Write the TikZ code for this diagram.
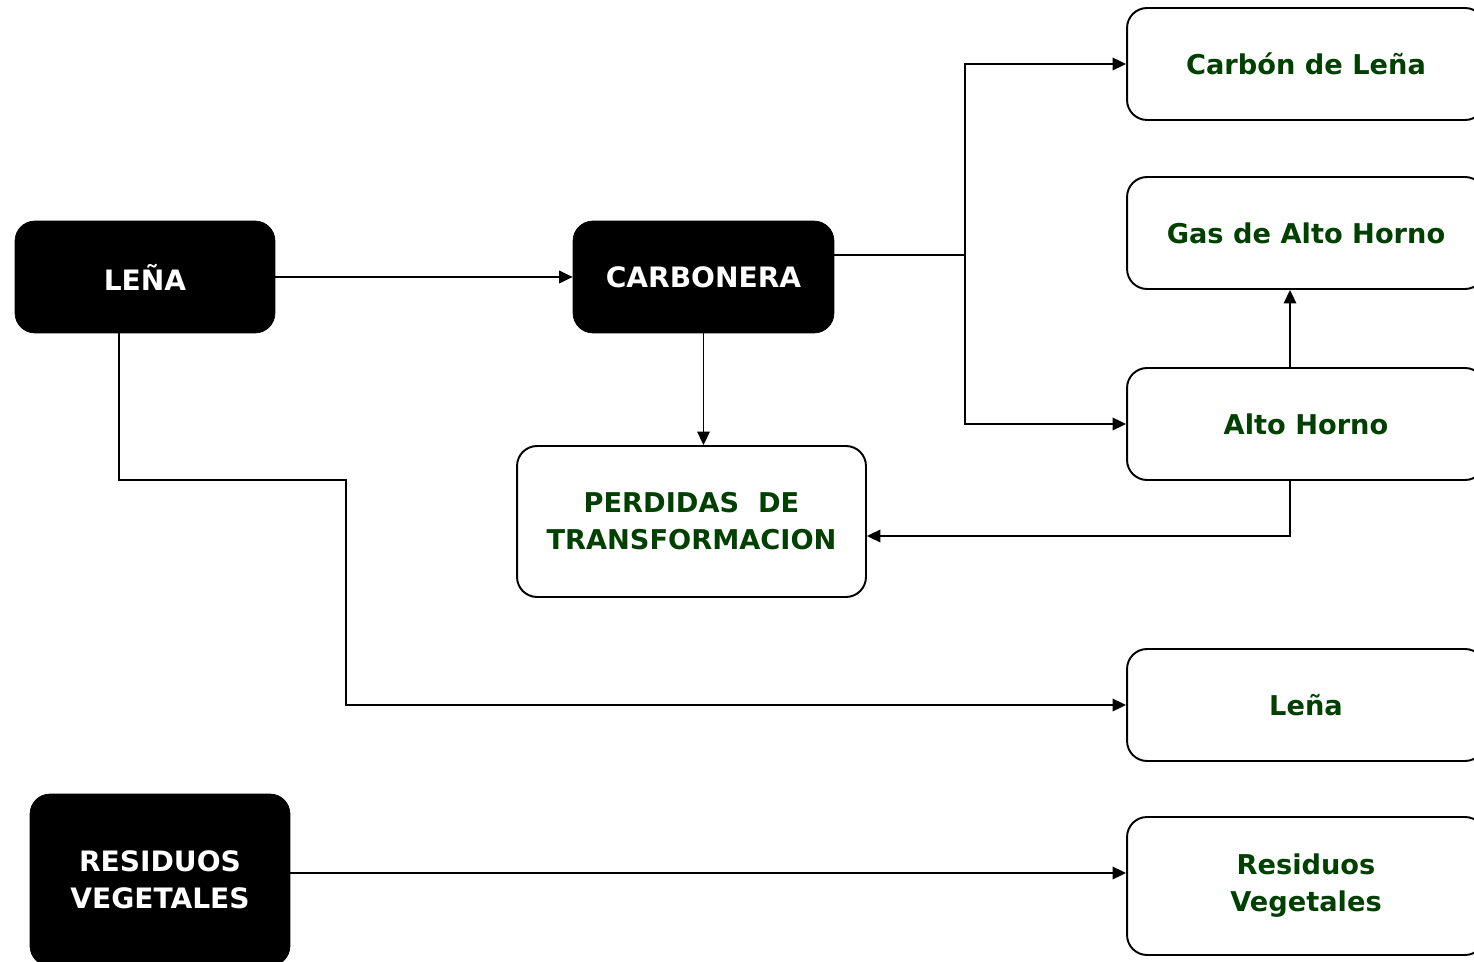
\documentclass[tikz,border=0pt]{standalone}
\usepackage{fontspec}
\setmainfont{DejaVu Sans}
\usepackage{tikz}
\usetikzlibrary{calc}
\usetikzlibrary{arrows.meta}
\usetikzlibrary{positioning}
\definecolor{darkgreen}{RGB}{0,64,0}
\tikzset{source/.style={rectangle,rounded corners=0.4cm,fill=black,draw=black,text=white,font=\bfseries\fontsize{16}{21}\selectfont,align=center,inner sep=2pt}}
\tikzset{sink/.style={rectangle,rounded corners=0.4cm,fill=white,draw=black,line width=1.1pt,text=darkgreen,font=\bfseries\fontsize{15.5}{21}\selectfont,align=center,inner sep=2pt}}
\tikzset{flow/.style={line width=1.1pt,-{Triangle[length=0.27cm,width=0.25cm]}}}

\begin{document}
\begin{tikzpicture}[x=0.02cm,y=-0.02cm]
\useasboundingbox (0,0) rectangle (1474,962);
\clip (0,0) rectangle (1474,962);

% primary sources
\node[source,minimum width=5.2cm,minimum height=2.24cm] (lena) at (145,277) {LEÑA};
\node[source,minimum width=5.22cm,minimum height=2.24cm] (carb) at (703.5,277) {CARBONERA};
\node[source,minimum width=5.2cm,minimum height=3.44cm] (resin) at (160,880) {RESIDUOS\\VEGETALES};

% losses
\node[sink,minimum width=6.98cm,minimum height=3.02cm] (perd) at (691.5,521.5) {PERDIDAS \ DE\\TRANSFORMACION};

% products
\foreach \nm/\yy/\txt in {cdl/64/Carbón de Leña, gah/233/Gas de Alto Horno, ah/424/Alto Horno, lenaout/705/Leña}
  {
 \node[sink,minimum width=7.16cm,minimum height=2.24cm] (\nm) at (1306,\yy) {\txt};
 }
\node[sink,minimum width=7.16cm,minimum height=2.76cm] (resout) at (1306,886) {Residuos\\Vegetales};

\coordinate (split) at (965,255);
\coordinate (riser) at (1290,536);
\coordinate (drop) at (119,480);
\coordinate (bend) at (346,705);
\coordinate (resline) at (290,873);

\draw[flow] (lena) -- (carb);
\draw[line width=1.1pt] (carb.east |- split) -- (split);
\draw[flow] (split) |- (cdl);
\draw[flow] (split) |- (ah);
\draw[flow] (carb) -- (carb |- perd.north);
\draw[flow] (ah.north -| riser) -- (gah.south -| riser);
\draw[flow] (ah.south -| riser) -- (riser) -- (riser -| perd.east);
\draw[flow] (lena.south -| drop) -- (drop) -| (bend) -- (lenaout);
\draw[flow] (resin.east |- resline) -- (resline -| resout.west);

\end{tikzpicture}
\end{document}
